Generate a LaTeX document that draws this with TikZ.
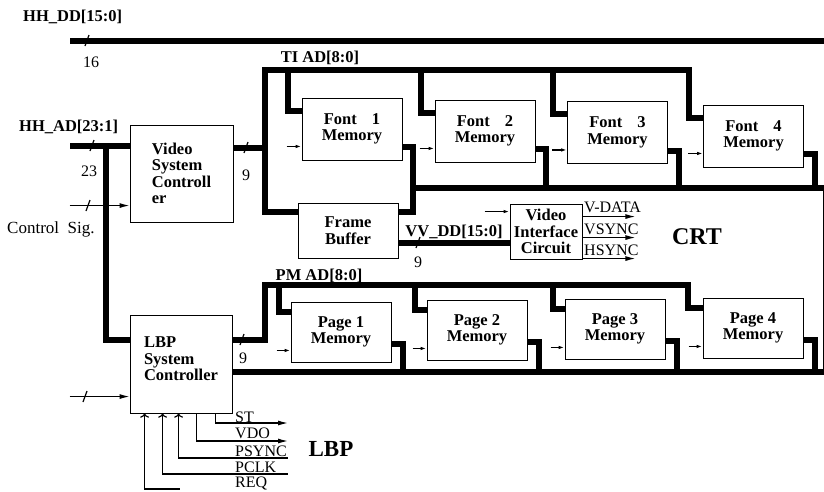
\documentclass[tikz,border=0pt]{standalone}
\usepackage{fontspec}
\setmainfont{Liberation Serif}
\usetikzlibrary{arrows.meta}
\begin{document}
\begin{tikzpicture}[x=1pt, y=-1pt,
  box/.style={draw, line width=0.9pt, font=\bfseries\fontsize{16.5}{16.5}\selectfont, align=center, inner sep=1pt},
  bus/.style={line width=6pt},
  sig/.style={line width=1.2pt},
  arr/.style={sig, -{Latex[length=10pt,width=5pt]}},
  small/.style={sig, -{Latex[length=6pt,width=3.5pt]}},
  lbl/.style={font=\bfseries\fontsize{16.5}{17}\selectfont, inner sep=0pt},
  txt/.style={font=\fontsize{16}{17}\selectfont, inner sep=0pt}
]
\useasboundingbox (0,0) rectangle (824,491);

% controllers, buffers
\node[box, align=left, minimum width=103pt, minimum height=97pt] (vsc) at (181.5,173.5) {Video\\System\\Controll\\er};
\node[box, align=left, minimum width=102pt, minimum height=98pt] (lbp) at (181,364) {LBP\\System\\Controller\\[-6pt]\mbox{}};
\node[box, minimum width=100pt, minimum height=55pt] (fb) at (348,230.5) {Frame\\Buffer};
\node[box, minimum width=72pt, minimum height=55pt] (vic) at (546,231.5) {Video\\Interface\\Circuit};

% font and page memories
\foreach \i/\x/\y in {1/352/129, 2/485/131, 3/617.5/132.5, 4/753.5/136}
  \node[box, minimum width=100pt, minimum height=62pt] (f\i) at (\x,\y) {Font\hspace{15pt}\i\\Memory};
\foreach \i/\x/\y in {1/341/332, 2/477/330, 3/615/329, 4/753/328}
  \node[box, minimum width=100pt, minimum height=60pt] (p\i) at (\x,\y) {Page \i\\Memory};

\coordinate (ddL) at (70,41);
\coordinate (ddR) at (824,41);
\coordinate (adL) at (70,146);
\coordinate (adT) at (106,146);
\coordinate (tiT) at (265,70);
\coordinate (tiR) at (824,188);
\coordinate (pmT) at (265,285);
\coordinate (pmR) at (824,372);

% host buses
\draw[bus] (ddL) -- (ddR);
\draw[bus] (adL) -- (adL -| vsc.west);
\draw[bus] (adT) |- ([yshift=-25pt]lbp.north west);

% TI_AD bus
\draw[bus] ([yshift=-13pt]f4.north west) -- ++(-14,0) |- (tiT) |- ([yshift=-9pt]fb.north west);
\foreach \i in {1,2,3}
  \draw[bus] ([yshift=-13pt]f\i.north west) -- ++(-14,0) |- (tiT);
\draw[bus] ([yshift=-23pt]vsc.north east) coordinate (vout) -- (vout -| tiT);
\draw[bus] ([yshift=13pt]f1.south east) -- ++(11,0) |- ([yshift=-9pt]fb.north east);
\foreach \i in {1,...,4}
  \draw[bus] ([yshift=13pt]f\i.south east) -- ++(11,0) |- (tiR);
\draw[bus] ([yshift=-40pt]fb.north east) coordinate (vvL) -- (vvL -| vic.west);

% PM_AD bus
\draw[bus] ([yshift=-10pt]p4.north west) -- ++(-15,0) |- (pmT) |- ([yshift=-25pt]lbp.north east);
\foreach \i in {1,2,3}
  \draw[bus] ([yshift=-10pt]p\i.north west) -- ++(-12,0) |- (pmT);
\foreach \i in {1,...,4}
  \draw[bus] ([yshift=18pt]p\i.south east) -- ++(12,0) |- (pmR);
\draw[bus] (lbp.east |- pmR) -- (pmR);
\draw[sig, line width=0.8pt] ([xshift=-1pt]tiR) -- ([xshift=-1pt]pmR);

% control inputs
\foreach \i in {1,...,4} {
  \draw[small] ([xshift=-15pt,yshift=14pt]f\i.south west) -- ([yshift=14pt]f\i.south west);
  \draw[small] ([xshift=-14pt,yshift=12pt]p\i.south west) -- ([yshift=12pt]p\i.south west);
}
\draw[arr] ([xshift=-60pt,yshift=-81pt]vsc.north west) -- ([yshift=-81pt]vsc.north west);
\draw[arr] ([xshift=-60pt,yshift=-82pt]lbp.north west) -- ([yshift=-82pt]lbp.north west);
\draw[small] ([xshift=-25pt,yshift=-8pt]vic.north west) -- ([yshift=-8pt]vic.north west);

% bus widths
\foreach \x/\y in {87/41, 92/146, 246/148, 88/206, 418/243, 242/340, 85/397}
  \draw[sig] (\x-2,\y+5) -- (\x+2,\y-6);

% video outputs
\foreach \d in {13,34,55}
  \draw[arr] ([yshift=-\d pt]vic.north east) -- ++(53,0);
\node[txt, anchor=west] (vdata) at (584,207) {V-DATA};
\node[txt, anchor=west] (vsync) at (584,229) {VSYNC};
\node[txt, anchor=west] (hsync) at (584,250) {HSYNC};

% printer signals
\coordinate (stE) at (288,423);
\coordinate (vdoE) at (288,441);
\coordinate (psE) at (288,458);
\coordinate (pcE) at (288,474);
\coordinate (rqE) at (180,489);
\draw[arr] ([xshift=86pt]lbp.south west) |- (stE);
\draw[arr] ([xshift=67pt]lbp.south west) |- (vdoE);
\draw[arr, <-] ([xshift=49pt]lbp.south west) |- (psE);
\draw[arr, <-] ([xshift=33pt]lbp.south west) |- (pcE);
\draw[arr, <-] ([xshift=15pt]lbp.south west) |- (rqE);
\node[txt, anchor=west] (st) at (235,417) {ST};
\node[txt, anchor=west] (vdo) at (235,433) {VDO};
\node[txt, anchor=west] (psync) at (235,451) {PSYNC};
\node[txt, anchor=west] (pclk) at (235,467) {PCLK};
\node[txt, anchor=west] (req) at (235,483) {REQ};

% labels
\node[lbl, anchor=west] (ddlab) at (23,17) {HH\_DD[15:0]};
\node[txt] (dd16) at (91,62) {16};
\node[lbl, anchor=west] (adlab) at (19,127) {HH\_AD[23:1]};
\node[txt] (ad23) at (89,171) {23};
\node[txt, font=\fontsize{17}{18}\selectfont, anchor=west] (ctl) at (7,229) {Control~~Sig.};
\node[txt] (vsc9) at (246,175) {9};
\node[lbl] (tilab) at (320,58) {TI AD[8:0]};
\node[lbl] (pmlab) at (319,276) {PM AD[8:0]};
\node[lbl] (vvlab) at (454,232) {VV\_DD[15:0]};
\node[txt] (vv9) at (418,262) {9};
\node[txt] (lbp9) at (243,358) {9};
\node[font=\bfseries\fontsize{24}{26}\selectfont, inner sep=0pt] (crt) at (697,237) {CRT};
\node[font=\bfseries\fontsize{23}{25}\selectfont, inner sep=0pt] (lbpname) at (331,449) {LBP};
\end{tikzpicture}
\end{document}
